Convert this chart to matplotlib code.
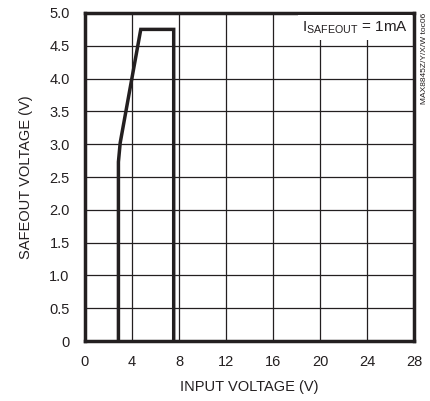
import matplotlib
matplotlib.use('Agg')
import matplotlib.pyplot as plt
from matplotlib import font_manager

# curve
vin = [2.85, 2.85, 3.0, 4.75, 7.55, 7.55]
vsafe = [0.0, 2.73, 3.02, 4.75, 4.75, 0.0]

xticks = [0, 4, 8, 12, 16, 20, 24, 28]
yticks = [0, 0.5, 1.0, 1.5, 2.0, 2.5, 3.0, 3.5, 4.0, 4.5, 5.0]
ytick_labels = ['0', '0.5', '1.0', '1.5', '2.0', '2.5', '3.0', '3.5', '4.0', '4.5', '5.0']

names = {f.name for f in font_manager.fontManager.ttflist}
fam = 'Liberation Sans Narrow' if 'Liberation Sans Narrow' in names else 'Liberation Sans'
plt.rcParams['font.family'] = [fam, 'DejaVu Sans']
plt.rcParams['mathtext.fontset'] = 'custom'
plt.rcParams['mathtext.rm'] = fam

ink = '#231f20'

fig = plt.figure(figsize=(4.31, 4.01), dpi=100)
ax = fig.add_axes([0.197, 0.1496, 0.764, 0.818])

ax.plot(vin, vsafe, color=ink, lw=2.5, solid_joinstyle='miter', zorder=3)

ax.set_xlim(0, 28)
ax.set_ylim(0, 5.0)
ax.set_xticks(xticks)
ax.set_yticks(yticks)
ax.set_yticklabels(ytick_labels)
ax.tick_params(length=0, labelsize=10.5, colors=ink)
ax.tick_params(axis='x', pad=10)
ax.tick_params(axis='y', pad=11)
ax.grid(True, color=ink, lw=0.9)
for s in ax.spines.values():
    s.set_linewidth(2.5)
    s.set_color(ink)

ax.set_xlabel('INPUT VOLTAGE (V)', fontsize=10.5, color=ink, labelpad=8)
ax.set_ylabel('SAFEOUT VOLTAGE (V)', fontsize=10.5, color=ink, labelpad=12)

ax.text(27.5, 4.9, r'I$_{\mathregular{SAFEOUT}}$ = 1mA', fontsize=11, ha='right', va='top',
        color=ink, zorder=4,
        bbox=dict(facecolor='white', edgecolor='none', pad=3))

fig.text(0.984, 0.967, 'MAX8845Z/Y/X/W toc06', rotation=90, fontsize=6, ha='center', va='top',
         color=ink)

fig.savefig('out.png', dpi=100)
